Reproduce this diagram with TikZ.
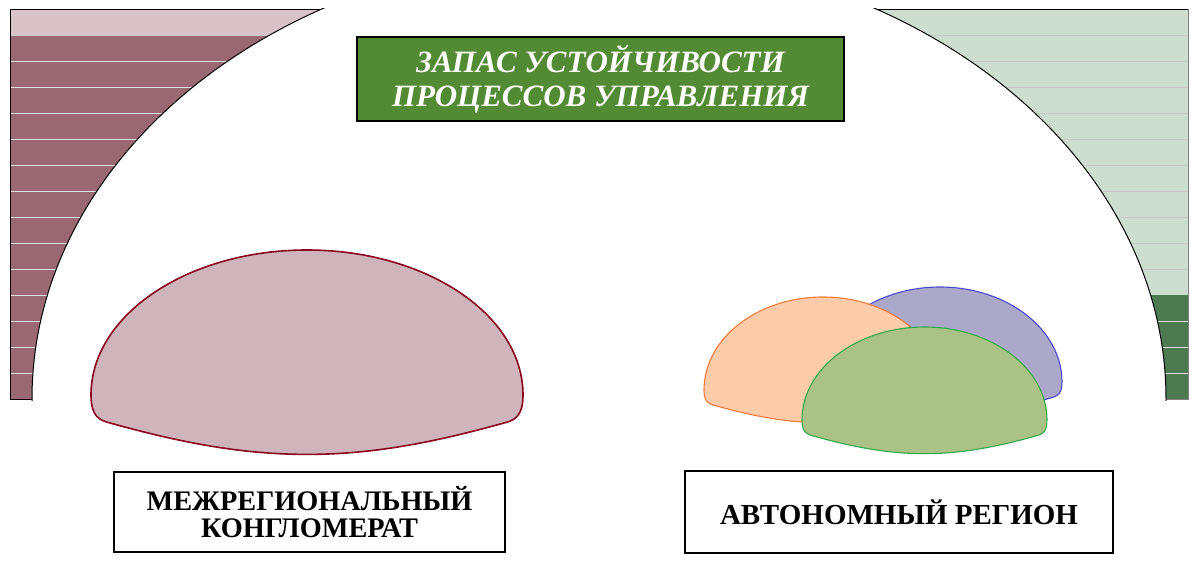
\documentclass[tikz,border=0pt]{standalone}
\usepackage{fontspec}
\setmainfont{Liberation Serif}
\definecolor{lband}{RGB}{217,195,200}
\definecolor{ldark}{RGB}{154,104,114}
\definecolor{rlight}{RGB}{205,221,208}
\definecolor{rdark}{RGB}{78,122,82}
\definecolor{titlegreen}{RGB}{83,139,52}
\definecolor{lblobfill}{RGB}{207,181,187}
\definecolor{lblobline}{RGB}{139,0,30}
\definecolor{orfill}{RGB}{255,204,170}
\definecolor{orline}{RGB}{240,122,58}
\definecolor{blfill}{RGB}{172,168,202}
\definecolor{blline}{RGB}{74,74,204}
\definecolor{grfill}{RGB}{171,194,134}
\definecolor{grline}{RGB}{46,170,74}
\definecolor{lightline}{RGB}{200,200,200}
\definecolor{paleline}{RGB}{225,225,225}
\newcommand\blobshape[4]{%
 ({#1-#3},{#2}) arc[start angle=180,end angle=360,x radius=#3,y radius=#4]
 .. controls ({#1+#3},{#2+0.1*#3}) and ({#1+0.96*#3},{#2+0.118*#3}) .. ({#1+0.91*#3},{#2+0.13*#3})
 .. controls ({#1+0.57*#3},{#2+0.225*#3}) and ({#1+0.29*#3},{#2+0.275*#3}) .. ({#1},{#2+0.275*#3})
 .. controls ({#1-0.29*#3},{#2+0.275*#3}) and ({#1-0.57*#3},{#2+0.225*#3}) .. ({#1-0.91*#3},{#2+0.13*#3})
 .. controls ({#1-0.96*#3},{#2+0.118*#3}) and ({#1-#3},{#2+0.1*#3}) .. cycle}
\tikzset{
  labelbox/.style={draw=black, line width=1.5pt, fill=white, inner sep=0pt, align=center,
     font=\fontsize{28.3}{27}\selectfont\bfseries},
  titlebox/.style={draw=black, line width=1.5pt, fill=titlegreen, inner sep=0pt, align=center,
     text=white, font=\fontsize{31}{34.5}\selectfont\bfseries\itshape},
  arcline/.style={draw=black, line width=1pt},
}
\begin{document}
\begin{tikzpicture}[x=1pt,y=-1pt]
\useasboundingbox (0,0) rectangle (1200,565);
% left panel
\begin{scope}
  \clip (9,8) rectangle (600,400);
  \fill[lband] (10,9) rectangle (600,35);
  \fill[ldark] (10,35) rectangle (600,399);
  \foreach \k in {1}{\draw[lightline, line width=1pt] (10,{9+26*\k}) -- (600,{9+26*\k});}
  \foreach \k in {2,...,14}{\draw[paleline, line width=1pt] (10,{9+26*\k}) -- (600,{9+26*\k});}
  \draw[black, line width=1pt] (10,399) -- (10,9) -- (600,9);
  \draw[black, line width=1pt] (10,399) -- (600,399);
  \fill[white] (599,399) ellipse [x radius=567, y radius=447];
  \draw[arcline] (599,399) ellipse [x radius=567, y radius=447];
\end{scope}
% right panel
\begin{scope}
  \clip (598,8) rectangle (1190,400);
  \fill[rlight] (598,9) rectangle (1188,295);
  \fill[rdark] (598,295) rectangle (1188,399);
  \foreach \k in {1,...,10}{\draw[lightline, line width=1pt] (598,{9+26*\k}) -- (1188,{9+26*\k});}
  \foreach \k in {12,...,14}{\draw[paleline, line width=1pt] (598,{9+26*\k}) -- (1188,{9+26*\k});}
  \draw[black, line width=1pt] (598,9) -- (1188,9);
  \draw[gray, line width=1pt] (1188,9) -- (1188,399) -- (598,399);
  \fill[white] (599,399) ellipse [x radius=567, y radius=447];
  \draw[arcline] (599,399) ellipse [x radius=567, y radius=447];
\end{scope}
% title
\node[titlebox, minimum width=487pt, minimum height=84pt] (title) at (600.5,79)
  {ЗАПАС УСТОЙЧИВОСТИ\\ПРОЦЕССОВ УПРАВЛЕНИЯ};
% left blob
\filldraw[fill=lblobfill, draw=lblobline, line width=1.6pt] \blobshape{307}{395}{216}{145};
% right blobs
\filldraw[fill=blfill, draw=blline, line width=1.1pt] \blobshape{940}{382}{122}{95};
\filldraw[fill=orfill, draw=orline, line width=1.1pt] \blobshape{823}{390}{119}{93};
\filldraw[fill=grfill, draw=grline, line width=1.1pt] \blobshape{924.5}{420}{122.5}{93};
% labels
\node[labelbox, minimum width=391pt, minimum height=80pt] (conglo) at (309.5,512)
  {МЕЖРЕГИОНАЛЬНЫЙ\\КОНГЛОМЕРАТ};
\node[labelbox, minimum width=428pt, minimum height=82pt, font=\fontsize{29}{27}\selectfont\bfseries] (region) at (899,512)
  {АВТОНОМНЫЙ РЕГИОН};
\end{tikzpicture}
\end{document}
